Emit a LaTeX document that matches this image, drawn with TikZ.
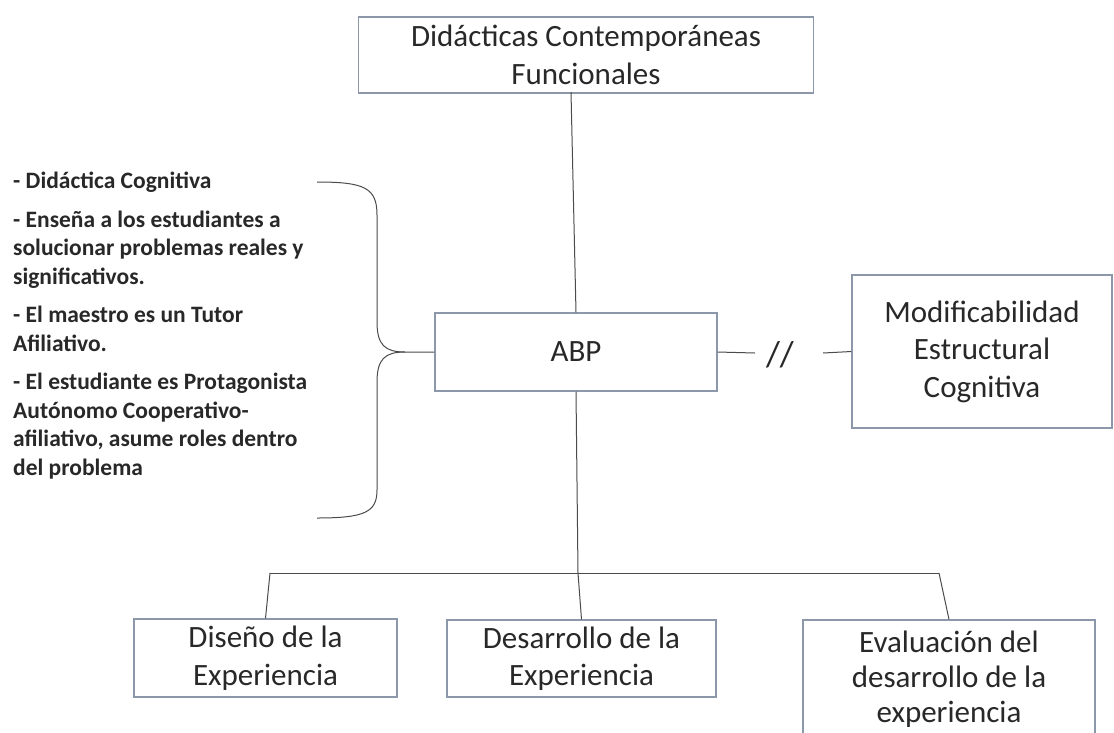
\documentclass[tikz,border=0pt]{standalone}
\usepackage{fontspec}
\setmainfont{Carlito}
\definecolor{boxc}{RGB}{140,152,170}
\definecolor{linec}{RGB}{75,75,75}
\definecolor{txt}{RGB}{40,40,40}
\begin{document}
\begin{tikzpicture}[x=1pt,y=-1pt,
  box/.style={draw=boxc, line width=1.2pt, fill=white, inner sep=0pt, align=center,
              text=txt, font=\fontsize{31}{37.5}\selectfont},
  conn/.style={draw=linec, line width=1pt},
  note/.style={anchor=north west, inner sep=0pt, align=left, text=txt,
               font=\bfseries\fontsize{23.5}{28.5}\selectfont}]
\clip (0,0) rectangle (1114,732);
\fill[white] (0,0) rectangle (1114,732);

% boxes
\node[box, minimum width=455pt, minimum height=76pt] (top) at (586,55)
  {Didácticas Contemporáneas\\Funcionales};
\node[box, minimum width=282pt, minimum height=78pt] (abp) at (576,352) {ABP};
\node[box, minimum width=260pt, minimum height=153pt] (mod) at (982,351.5)
  {Modificabilidad\\Estructural\\Cognitiva};
\node[box, minimum width=263pt, minimum height=78pt] (dis) at (265.5,658)
  {Diseño de la\\Experiencia};
\node[box, minimum width=269pt, minimum height=77pt] (des) at (581.5,658.5)
  {Desarrollo de la\\Experiencia};
\node[box, minimum width=292pt, minimum height=118pt,
      font=\fontsize{31}{35}\selectfont] (eva) at (949,679)
  {Evaluación del\\desarrollo de la\\experiencia};

% left notes
\node[note] (notes) at (13,172)
  {- Didáctica Cognitiva\\[10pt]
   - Enseña a los estudiantes a\\
   solucionar problemas reales y\\
   significativos.\\[10pt]
   - El maestro es un Tutor\\
   Afiliativo.\\[10pt]
   - El estudiante es Protagonista\\
   Autónomo Cooperativo-\\
   afiliativo, asume roles dentro\\
   del problema};

% brace
\coordinate (bt) at (317,182);
\coordinate (bb) at (317,518);
\coordinate (tip) at (405,352);
\draw[conn] (bt) .. controls (365,182) and (377,188) .. (377,215) -- (377,322)
  .. controls (377,345) and (385,352) .. (tip) -- (abp.west);
\draw[conn] (tip) .. controls (385,352) and (377,359) .. (377,382) -- (377,490)
  .. controls (377,512) and (365,518) .. (bb);

% top to ABP
\coordinate (t1) at (571,92);
\draw[conn] (t1) -- (abp.north);

% ABP to Mod
\coordinate (m1) at (755,353);
\coordinate (m2) at (823,353);
\node[text=txt, inner sep=0pt, font=\fontsize{36}{36}\selectfont] (sl) at (780,355) {//};
\draw[conn] (abp.east) -- (m1);
\draw[conn] (m2) -- (mod.west);

% bottom tree
\coordinate (hl) at (270,573);
\coordinate (hm) at (578,573);
\coordinate (hr) at (939,573);
\draw[conn] (hl) -- (hr);
\draw[conn] (abp.south) -- (hm) -- (des.north);
\draw[conn] (hl) -- (dis.north);
\draw[conn] (hr) -- (eva.north);
\end{tikzpicture}
\end{document}
